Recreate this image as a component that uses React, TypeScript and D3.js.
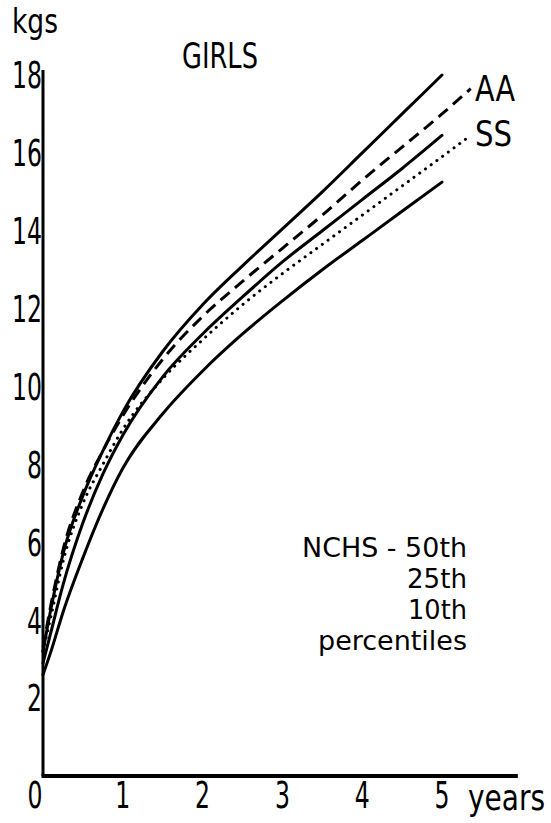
import React from "react";
import * as d3 from "d3";

// Ages in years
const ages = [0, 0.1, 0.25, 0.5, 0.75, 1, 1.5, 2, 2.5, 3, 3.5, 4, 4.5, 5];
const agesExt = [0, 0.1, 0.25, 0.5, 0.75, 1, 1.5, 2, 2.5, 3, 3.5, 4, 4.5, 5, 5.36];

// NCHS percentiles (kg)
const nchs50 = [3.2, 4.3, 5.7, 7.2, 8.35, 9.35, 10.9, 12.1, 13.1, 14.05, 15.0, 16.0, 17.0, 18.0];
const nchs25 = [2.9, 3.7, 4.9, 6.5, 7.75, 8.75, 10.25, 11.35, 12.3, 13.2, 14.0, 14.8, 15.6, 16.45];
const nchs10 = [2.6, 3.2, 4.2, 5.6, 6.85, 7.9, 9.3, 10.4, 11.35, 12.2, 13.0, 13.75, 14.5, 15.25];

// Study groups (kg)
const aa = [3.3, 4.4, 5.8, 7.3, 8.35, 9.25, 10.7, 11.8, 12.7, 13.55, 14.4, 15.3, 16.15, 17.0, 17.65];
const ss = [3.2, 4.1, 5.5, 7.0, 8.0, 8.9, 10.2, 11.2, 12.1, 12.9, 13.65, 14.4, 15.15, 15.9, 16.45];

const xTicks = [0, 1, 2, 3, 4, 5];
const yTicks = [2, 4, 6, 8, 10, 12, 14, 16, 18];
const legendLines = ["NCHS - 50th", "25th", "10th", "percentiles"];
const legendWidths = [165, 60, 59, 149];

const FONT = "'DejaVu Sans', sans-serif";

export default function App() {
  const W = 551;
  const H = 823;
  const x = d3.scaleLinear().domain([0, 5]).range([43, 442]);
  const y = d3.scaleLinear().domain([0, 18]).range([776, 75]);

  const line = (xs: number[], ys: number[]) =>
    d3
      .line<number>()
      .x((_, i) => x(xs[i]))
      .y((d) => y(d))
      .curve(d3.curveMonotoneX)(ys) as string;

  const solid = { fill: "none", stroke: "#000", strokeWidth: 3, strokeLinecap: "round" as const };
  const digitW = 15;

  return (
    <svg
      width={W}
      height={H}
      style={{ position: "absolute", left: 0, top: 0, background: "#fff" }}
      fontFamily={FONT}
    >
      <rect width={W} height={H} fill="#fff" />
      {/* axes */}
      <line x1={x(0)} x2={x(0)} y1={y(18.13)} y2={y(0)} stroke="#000" strokeWidth={3} />
      <line x1={x(0) - 1.5} x2={x(5.95)} y1={y(0)} y2={y(0)} stroke="#000" strokeWidth={4} />

      {yTicks.map((t) => (
        <text
          key={"y" + t}
          x={42}
          y={y(t)}
          dy="0.36em"
          textAnchor="end"
          fontSize={37}
          textLength={String(t).length * digitW}
          lengthAdjust="spacingAndGlyphs"
        >
          {t}
        </text>
      ))}
      {xTicks.map((t) => (
        <text
          key={"x" + t}
          x={t === 0 ? 35 : x(t)}
          y={808}
          textAnchor="middle"
          fontSize={37}
          textLength={digitW}
          lengthAdjust="spacingAndGlyphs"
        >
          {t}
        </text>
      ))}
      <text transform="translate(468,810) scale(0.8,1)" fontSize={35}>years</text>
      <text x={12} y={33} fontSize={34} textLength={46} lengthAdjust="spacingAndGlyphs">kgs</text>
      <text x={182} y={68} fontSize={36} textLength={76} lengthAdjust="spacingAndGlyphs">GIRLS</text>

      {/* NCHS curves */}
      <path d={line(ages, nchs50)} {...solid} />
      <path d={line(ages, nchs25)} {...solid} />
      <path d={line(ages, nchs10)} {...solid} />
      {/* AA dashed */}
      <path d={line(agesExt, aa)} fill="none" stroke="#000" strokeWidth={3} strokeDasharray="12 7" />
      {/* SS dotted */}
      <path
        d={line(agesExt, ss)}
        fill="none"
        stroke="#000"
        strokeWidth={3}
        strokeDasharray="0.1 7"
        strokeLinecap="round"
      />

      <text x={475} y={101} fontSize={36} textLength={40} lengthAdjust="spacingAndGlyphs">AA</text>
      <text x={475} y={146} fontSize={36} textLength={37} lengthAdjust="spacingAndGlyphs">SS</text>

      {legendLines.map((s, i) => (
        <text
          key={s}
          x={467 - legendWidths[i]}
          y={557 + i * 31}
          fontSize={26}
          textLength={legendWidths[i]}
          lengthAdjust="spacingAndGlyphs"
        >
          {s}
        </text>
      ))}
    </svg>
  );
}
